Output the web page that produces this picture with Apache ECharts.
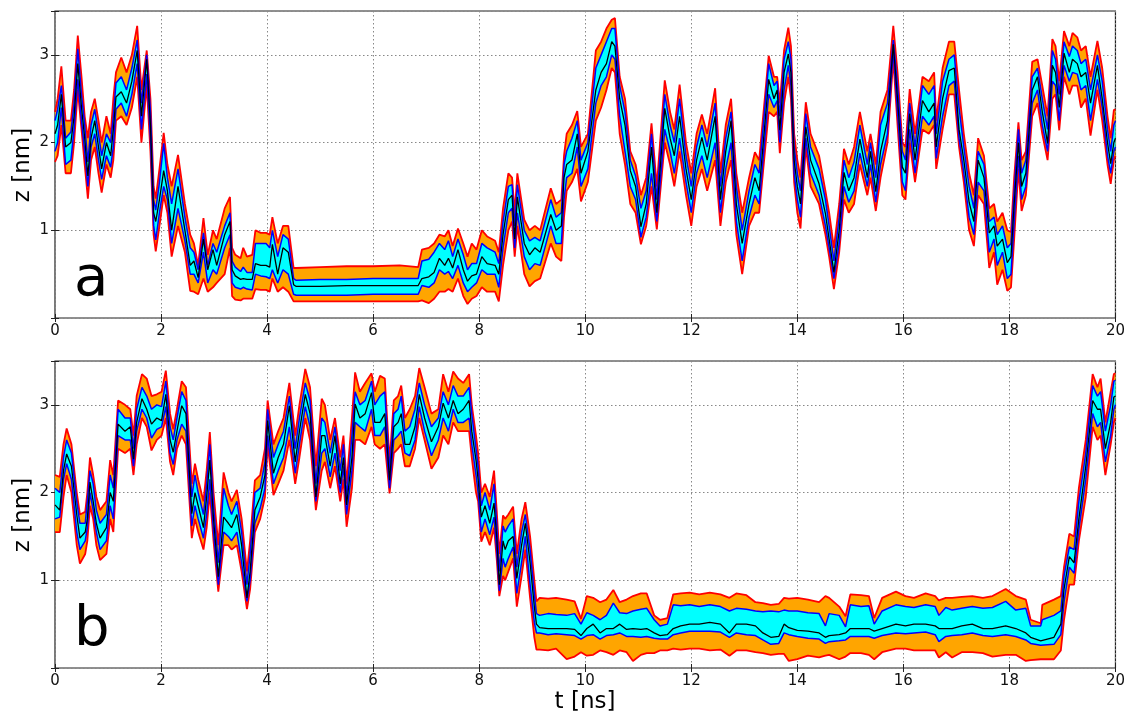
<!DOCTYPE html>
<html><head><meta charset="utf-8">
<script src="https://cdn.jsdelivr.net/npm/echarts@6/dist/echarts.min.js"></script>
<style>html,body{margin:0;padding:0;background:#fff}#c{width:1128px;height:715px}</style>
</head><body><div id="c"></div>
<script>
// ---------- panel a ----------
const tA = [0,0.05,0.12,0.2,0.3,0.36,0.43,0.5,0.56,0.62,
0.68,0.75,0.82,0.88,0.97,1.05,1.1,1.15,1.25,1.35,
1.45,1.55,1.63,1.73,1.8,1.86,1.9,1.97,2.05,2.12,
2.2,2.32,2.45,2.55,2.62,2.7,2.8,2.88,2.98,3.05,
3.2,3.3,3.34,3.4,3.5,3.55,3.62,3.72,3.78,3.88,
3.98,4.05,4.1,4.2,4.3,4.4,4.5,4.55,5,5.5,
6,6.5,6.85,6.92,7.05,7.15,7.25,7.35,7.42,7.5,
7.6,7.7,7.78,7.86,7.95,8.05,8.15,8.3,8.37,8.45,
8.55,8.62,8.67,8.72,8.85,8.95,9.05,9.15,9.35,9.45,
9.55,9.6,9.65,9.75,9.85,9.92,10.05,10.2,10.3,10.4,
10.5,10.56,10.65,10.75,10.85,10.95,11.05,11.15,11.25,11.35,
11.5,11.6,11.68,11.78,11.9,12,12.1,12.2,12.3,12.45,
12.55,12.65,12.75,12.85,12.96,13.09,13.2,13.28,13.46,13.56,
13.62,13.67,13.75,13.83,13.88,13.94,14,14.06,14.16,14.25,
14.41,14.53,14.6,14.69,14.79,14.88,14.97,15.07,15.18,15.32,
15.38,15.48,15.57,15.7,15.81,15.89,15.98,16.04,16.12,16.22,
16.36,16.48,16.58,16.62,16.74,16.86,16.96,17.05,17.14,17.24,
17.33,17.41,17.52,17.62,17.71,17.77,17.87,17.96,18.03,18.09,
18.17,18.23,18.31,18.43,18.53,18.62,18.72,18.81,18.87,18.94,
19.03,19.13,19.19,19.28,19.35,19.44,19.53,19.66,19.75,19.85,
19.91,19.97,20];
const redLoA = [1.78,1.85,2.20,1.65,1.65,2.00,2.60,2.15,1.75,1.36,
1.80,1.95,1.65,1.43,1.75,1.60,1.80,2.25,2.30,2.20,
2.40,2.75,2.00,2.65,1.90,0.95,0.76,1.05,1.40,1.20,
0.70,1.05,0.75,0.31,0.30,0.27,0.45,0.30,0.35,0.40,
0.50,0.80,0.25,0.21,0.20,0.22,0.22,0.22,0.33,0.32,
0.32,0.30,0.45,0.30,0.35,0.30,0.19,0.19,0.19,0.19,
0.19,0.19,0.19,0.20,0.17,0.22,0.30,0.30,0.33,0.30,
0.45,0.25,0.16,0.22,0.25,0.35,0.30,0.30,0.19,0.60,
1.00,1.10,0.70,1.05,0.50,0.36,0.42,0.45,0.85,0.70,
0.65,1.15,1.45,1.55,1.70,1.33,1.55,2.25,2.40,2.60,
2.85,2.80,2.10,1.75,1.30,1.20,0.84,1.05,1.50,1.01,
2.00,1.75,1.50,1.90,1.40,1.05,1.50,1.70,1.45,1.80,
1.05,1.55,1.80,0.95,0.50,1.05,1.20,1.20,2.35,2.30,
2.35,1.88,2.45,2.75,2.50,1.55,1.20,1.02,1.95,1.50,
1.30,0.95,0.70,0.33,0.75,1.35,1.20,1.30,1.75,1.40,
1.60,1.22,1.60,2.00,2.95,2.20,1.40,1.35,2.00,1.55,
2.15,2.10,2.20,1.70,2.15,2.55,2.55,1.95,1.55,1.00,
0.82,1.40,1.30,0.57,0.75,0.38,0.55,0.31,0.35,0.90,
1.70,1.22,1.40,2.30,2.45,2.10,1.80,2.50,2.55,2.14,
2.75,2.55,2.65,2.65,2.40,2.50,2.08,2.60,2.25,1.75,
1.53,1.80,1.85];
const blueLoA = [1.90,2.00,2.40,1.75,1.80,2.15,2.72,2.25,1.90,1.50,
1.95,2.10,1.80,1.58,1.85,1.72,1.95,2.38,2.45,2.30,
2.55,2.90,2.15,2.78,2.05,1.05,0.89,1.20,1.50,1.35,
0.85,1.25,0.88,0.50,0.50,0.40,0.75,0.40,0.55,0.50,
0.80,0.95,0.40,0.35,0.33,0.35,0.33,0.32,0.50,0.48,
0.47,0.45,0.55,0.40,0.55,0.50,0.27,0.26,0.26,0.26,
0.27,0.27,0.27,0.37,0.35,0.40,0.55,0.50,0.53,0.45,
0.60,0.40,0.30,0.35,0.40,0.55,0.50,0.50,0.35,0.80,
1.20,1.25,0.80,1.20,0.70,0.55,0.62,0.60,1.05,0.85,
0.85,1.35,1.60,1.65,1.95,1.50,1.70,2.45,2.65,2.75,
3.00,2.95,2.30,1.90,1.50,1.35,0.92,1.15,1.65,1.10,
2.15,1.90,1.65,2.05,1.55,1.20,1.65,1.85,1.60,2.00,
1.20,1.70,2.00,1.10,0.65,1.15,1.40,1.30,2.55,2.40,
2.48,2.00,2.60,2.88,2.65,1.65,1.35,1.15,2.05,1.65,
1.40,1.05,0.80,0.45,0.85,1.50,1.32,1.45,1.88,1.50,
1.75,1.32,1.75,2.10,3.05,2.35,1.55,1.45,2.15,1.65,
2.30,2.20,2.30,1.82,2.30,2.65,2.70,2.05,1.65,1.15,
0.95,1.55,1.45,0.75,0.90,0.60,0.75,0.45,0.50,1.10,
1.85,1.35,1.50,2.45,2.60,2.20,1.90,2.70,2.65,2.25,
2.88,2.70,2.80,2.78,2.60,2.65,2.25,2.72,2.40,1.85,
1.65,1.90,1.95];
const midA = [2.10,2.20,2.55,1.95,2.00,2.30,2.90,2.40,2.05,1.62,
2.05,2.25,1.95,1.70,2.00,1.85,2.15,2.52,2.58,2.45,
2.70,3.05,2.30,2.95,2.20,1.20,1.10,1.35,1.68,1.45,
1.00,1.50,1.00,0.60,0.65,0.46,0.90,0.55,0.78,0.60,
0.95,1.10,0.55,0.48,0.44,0.45,0.44,0.44,0.62,0.60,
0.60,0.58,0.84,0.50,0.80,0.75,0.38,0.36,0.36,0.37,
0.37,0.37,0.37,0.45,0.47,0.52,0.68,0.60,0.68,0.57,
0.78,0.55,0.42,0.48,0.50,0.70,0.62,0.60,0.50,0.95,
1.35,1.40,0.90,1.38,0.85,0.72,0.80,0.75,1.18,1.00,
1.05,1.60,1.75,1.80,2.10,1.65,1.90,2.60,2.80,2.90,
3.15,3.10,2.50,2.20,1.68,1.50,1.04,1.30,1.95,1.20,
2.39,2.05,1.85,2.30,1.70,1.35,1.80,2.06,1.80,2.30,
1.35,1.90,2.25,1.30,0.85,1.30,1.60,1.45,2.72,2.50,
2.60,2.14,2.80,3.01,2.80,1.80,1.50,1.30,2.18,1.80,
1.53,1.19,0.90,0.52,1.00,1.66,1.45,1.60,2.04,1.60,
1.90,1.44,1.90,2.25,3.12,2.50,1.72,1.65,2.33,1.80,
2.48,2.35,2.45,1.95,2.50,2.82,2.85,2.15,1.80,1.32,
1.10,1.80,1.60,0.97,1.05,0.82,0.90,0.63,0.70,1.30,
2.00,1.50,1.65,2.60,2.75,2.35,1.99,2.88,2.80,2.40,
3.02,2.80,2.95,2.90,2.75,2.80,2.45,2.88,2.50,2.00,
1.76,2.00,2.05];
const blueHiA = [2.25,2.38,2.65,2.05,2.12,2.45,3.07,2.55,2.20,1.78,
2.20,2.38,2.10,1.85,2.10,2.00,2.30,2.68,2.75,2.60,
2.85,3.17,2.45,3.00,2.35,1.35,1.23,1.55,1.99,1.60,
1.30,1.70,1.15,0.80,0.75,0.55,0.97,0.60,0.85,0.75,
1.05,1.20,0.65,0.58,0.53,0.58,0.52,0.52,0.85,0.85,
0.85,0.80,1.00,0.70,0.95,0.90,0.45,0.43,0.44,0.44,
0.45,0.45,0.45,0.65,0.67,0.75,0.85,0.78,0.88,0.70,
0.90,0.72,0.55,0.62,0.62,0.85,0.80,0.75,0.62,1.10,
1.50,1.52,1.05,1.52,1.00,0.88,0.92,0.88,1.35,1.15,
1.20,1.75,1.90,2.05,2.25,1.80,2.00,2.85,3.00,3.15,
3.30,3.30,2.65,2.35,1.80,1.62,1.25,1.45,2.10,1.35,
2.55,2.20,2.00,2.50,1.85,1.50,1.95,2.20,1.95,2.45,
1.50,2.05,2.35,1.50,1.00,1.45,1.75,1.65,2.90,2.65,
2.70,2.30,2.95,3.15,2.95,1.95,1.65,1.45,2.33,1.95,
1.70,1.35,1.05,0.65,1.15,1.80,1.60,1.78,2.20,1.75,
2.00,1.60,2.20,2.45,3.17,2.65,1.90,1.80,2.45,1.95,
2.65,2.55,2.65,2.10,2.70,2.95,3.00,2.40,1.95,1.50,
1.25,1.90,1.75,1.10,1.15,0.95,1.05,0.80,0.85,1.45,
2.15,1.65,1.80,2.75,2.85,2.50,2.15,3.05,2.95,2.55,
3.15,2.98,3.10,3.05,2.90,2.95,2.60,3.00,2.70,2.15,
1.90,2.20,2.25];
const redHiA = [2.35,2.50,2.87,2.25,2.25,2.60,3.22,2.75,2.30,2.05,
2.35,2.50,2.25,2.00,2.30,2.10,2.50,2.80,2.97,2.80,
3.00,3.33,2.60,3.05,2.50,1.50,1.36,1.70,2.11,1.75,
1.50,1.86,1.30,0.95,0.85,0.60,1.14,0.72,1.00,0.90,
1.25,1.38,0.80,0.72,0.68,0.80,0.70,0.72,1.00,0.97,
0.97,0.95,1.15,0.85,1.05,1.05,0.57,0.57,0.58,0.59,
0.59,0.60,0.58,0.78,0.80,0.85,0.95,0.93,1.00,0.82,
1.02,0.85,0.70,0.85,0.78,1.00,0.93,0.88,0.75,1.25,
1.65,1.60,1.20,1.65,1.12,1.00,1.05,1.00,1.48,1.30,
1.35,1.85,2.10,2.20,2.36,1.95,2.10,3.05,3.15,3.30,
3.40,3.42,2.75,2.50,1.90,1.75,1.40,1.60,2.22,1.50,
2.71,2.35,2.15,2.66,2.00,1.65,2.10,2.32,2.10,2.62,
1.65,2.20,2.50,1.65,1.20,1.60,1.89,1.80,2.99,2.75,
2.75,2.45,3.05,3.31,3.10,2.10,1.80,1.60,2.46,2.10,
1.85,1.45,1.20,0.80,1.30,1.93,1.75,1.95,2.35,1.90,
2.10,1.75,2.35,2.60,3.33,2.80,2.00,1.95,2.61,2.10,
2.75,2.70,2.80,2.25,2.85,3.15,3.15,2.60,2.10,1.65,
1.40,2.05,1.85,1.25,1.30,1.10,1.20,1.00,0.98,1.60,
2.23,1.80,1.90,2.92,2.95,2.65,2.30,3.18,3.10,2.70,
3.27,3.10,3.25,3.20,3.05,3.10,2.75,3.16,2.85,2.30,
2.05,2.37,2.38];

// ---------- panel b ----------
const tB = [0,0.09,0.16,0.22,0.31,0.41,0.47,0.57,0.61,0.66,
0.72,0.78,0.85,0.97,1.04,1.1,1.19,1.32,1.42,1.48,
1.54,1.64,1.73,1.82,1.92,2.01,2.09,2.17,2.23,2.3,
2.39,2.47,2.58,2.64,2.7,2.8,2.86,2.92,2.99,3.08,
3.18,3.27,3.33,3.43,3.52,3.62,3.68,3.77,3.87,3.96,
4.01,4.12,4.21,4.31,4.42,4.53,4.61,4.72,4.81,4.92,
5.03,5.09,5.19,5.28,5.38,5.44,5.5,5.6,5.66,5.75,
5.85,5.97,6.03,6.13,6.22,6.31,6.39,6.47,6.53,6.6,
6.69,6.79,6.87,6.97,7.1,7.23,7.32,7.42,7.51,7.6,
7.7,7.81,7.86,7.94,7.98,8.04,8.11,8.2,8.28,8.33,
8.38,8.45,8.49,8.55,8.64,8.71,8.8,8.87,8.96,9.04,
9.08,9.14,9.3,9.45,9.65,9.8,9.92,10.03,10.15,10.28,
10.4,10.53,10.65,10.78,10.9,11.05,11.16,11.3,11.41,11.55,
11.66,11.8,11.97,12.15,12.35,12.55,12.72,12.85,13.04,13.21,
13.35,13.5,13.65,13.75,13.84,14,14.2,14.41,14.53,14.6,
14.79,14.91,15,15.2,15.35,15.45,15.6,15.86,16.04,16.2,
16.42,16.6,16.67,16.8,16.92,17.1,17.3,17.5,17.68,17.93,
18.12,18.31,18.4,18.59,18.62,18.84,18.97,19.03,19.13,19.22,
19.31,19.44,19.57,19.66,19.72,19.81,19.91,19.97,20];
const redLoB = [1.55,1.55,1.95,2.20,2.00,1.40,1.19,1.30,1.45,1.85,
1.70,1.40,1.23,1.30,1.70,1.55,2.50,2.45,2.50,2.20,
2.55,2.85,2.75,2.48,2.60,2.65,2.85,2.35,2.20,2.50,
2.65,2.55,1.48,1.70,1.55,1.35,1.60,2.00,1.45,0.87,
1.40,1.40,1.35,1.40,1.10,0.67,0.90,1.55,1.70,1.95,
2.55,1.97,2.10,2.25,2.60,2.10,2.40,2.85,2.60,1.80,
2.25,2.35,2.05,2.30,1.90,2.15,1.61,2.05,2.60,2.60,
2.55,2.75,2.55,2.50,2.55,1.99,2.45,2.50,2.55,2.30,
2.30,2.50,2.85,2.60,2.27,2.40,2.65,2.55,2.80,2.70,
2.70,2.70,2.40,2.00,1.90,1.44,1.55,1.40,1.60,1.25,
0.82,1.05,1.00,1.10,1.25,0.70,1.05,1.35,0.80,0.35,
0.21,0.21,0.20,0.22,0.10,0.13,0.18,0.14,0.15,0.20,
0.18,0.15,0.20,0.18,0.08,0.15,0.17,0.17,0.20,0.20,
0.22,0.21,0.22,0.22,0.20,0.21,0.14,0.20,0.20,0.18,
0.17,0.15,0.16,0.16,0.08,0.10,0.14,0.12,0.14,0.15,
0.10,0.13,0.17,0.17,0.15,0.10,0.18,0.22,0.22,0.20,
0.20,0.20,0.12,0.18,0.12,0.18,0.18,0.17,0.13,0.15,
0.15,0.08,0.09,0.10,0.10,0.10,0.20,0.55,0.95,0.95,
1.45,1.95,2.75,2.60,2.65,2.20,2.55,2.80,2.85];
const blueLoB = [1.70,1.72,2.15,2.33,2.15,1.55,1.35,1.45,1.60,2.00,
1.80,1.55,1.35,1.45,1.85,1.70,2.65,2.60,2.60,2.30,
2.70,2.95,2.85,2.62,2.72,2.75,2.98,2.45,2.32,2.60,
2.78,2.70,1.62,1.85,1.70,1.48,1.75,2.15,1.55,0.95,
1.55,1.50,1.45,1.55,1.20,0.76,1.00,1.65,1.82,2.05,
2.65,2.10,2.25,2.40,2.75,2.22,2.55,2.98,2.75,1.90,
2.45,2.50,2.18,2.45,2.00,2.30,1.75,2.25,2.80,2.75,
2.70,2.95,2.65,2.65,2.75,2.05,2.60,2.65,2.70,2.45,
2.42,2.60,2.98,2.70,2.42,2.60,2.85,2.70,2.95,2.80,
2.80,2.85,2.55,2.20,2.00,1.55,1.70,1.52,1.72,1.35,
0.88,1.25,1.15,1.25,1.38,0.85,1.20,1.50,0.95,0.52,
0.40,0.40,0.38,0.39,0.38,0.37,0.33,0.37,0.38,0.33,
0.37,0.38,0.40,0.36,0.36,0.35,0.36,0.34,0.33,0.33,
0.38,0.40,0.42,0.42,0.42,0.41,0.35,0.40,0.38,0.37,
0.32,0.27,0.28,0.40,0.38,0.36,0.34,0.33,0.28,0.30,
0.31,0.32,0.36,0.36,0.36,0.34,0.37,0.40,0.39,0.40,
0.41,0.38,0.30,0.36,0.37,0.38,0.40,0.37,0.36,0.38,
0.36,0.32,0.28,0.26,0.26,0.27,0.38,0.75,1.15,1.08,
1.58,2.15,2.90,2.75,2.80,2.35,2.65,2.95,3.00];
const midB = [1.86,1.80,2.25,2.44,2.30,1.75,1.48,1.55,1.70,2.12,
1.90,1.65,1.48,1.60,2.00,1.90,2.78,2.70,2.75,2.38,
2.80,3.07,2.95,2.78,2.85,2.82,3.12,2.60,2.46,2.70,
2.99,2.90,1.76,2.00,1.85,1.60,1.95,2.37,1.70,1.04,
1.72,1.65,1.60,1.75,1.40,0.80,1.10,1.80,1.95,2.20,
2.82,2.22,2.40,2.55,2.99,2.35,2.70,3.12,2.90,1.95,
2.65,2.65,2.30,2.65,2.10,2.40,1.86,2.40,3.01,2.85,
2.90,3.14,2.80,2.80,2.90,2.14,2.75,2.80,2.90,2.55,
2.55,2.75,3.12,2.85,2.58,2.75,3.02,2.85,3.05,2.90,
2.95,3.05,2.70,2.37,2.15,1.72,1.85,1.65,1.88,1.50,
0.95,1.45,1.35,1.45,1.50,1.02,1.40,1.65,1.20,0.70,
0.50,0.46,0.45,0.45,0.45,0.44,0.37,0.45,0.50,0.40,
0.45,0.45,0.50,0.44,0.45,0.44,0.45,0.40,0.37,0.38,
0.45,0.48,0.50,0.50,0.52,0.50,0.40,0.50,0.50,0.48,
0.40,0.35,0.36,0.50,0.46,0.43,0.42,0.40,0.35,0.37,
0.38,0.40,0.45,0.45,0.45,0.42,0.45,0.50,0.48,0.50,
0.50,0.48,0.45,0.45,0.45,0.48,0.50,0.45,0.45,0.48,
0.45,0.40,0.35,0.31,0.31,0.35,0.50,0.90,1.27,1.20,
1.70,2.30,3.05,2.95,2.95,2.50,2.80,3.09,3.10];
const blueHiB = [2.05,2.00,2.40,2.60,2.45,1.90,1.65,1.65,1.90,2.25,
2.10,1.80,1.65,1.75,2.20,2.05,2.95,2.85,2.85,2.50,
2.95,3.20,3.10,2.95,3.00,2.98,3.27,2.75,2.60,2.85,
3.15,3.05,1.95,2.20,2.00,1.75,2.10,2.55,1.85,1.20,
2.05,1.85,1.75,1.90,1.55,0.95,1.30,2.00,2.05,2.35,
2.95,2.40,2.55,2.70,3.10,2.50,2.85,3.25,3.05,2.10,
2.85,2.80,2.45,2.75,2.25,2.55,1.95,2.65,3.15,3.00,
3.05,3.27,3.00,3.10,3.15,2.25,2.90,2.95,3.10,2.70,
2.75,2.95,3.25,3.00,2.75,2.85,3.15,3.00,3.22,3.10,
3.10,3.20,2.90,2.50,2.30,1.85,2.00,1.80,2.10,1.65,
1.10,1.62,1.55,1.62,1.70,1.15,1.55,1.75,1.35,0.85,
0.62,0.60,0.62,0.61,0.60,0.62,0.50,0.63,0.60,0.55,
0.60,0.74,0.63,0.62,0.65,0.67,0.68,0.55,0.48,0.50,
0.72,0.71,0.72,0.70,0.72,0.70,0.65,0.68,0.67,0.65,
0.64,0.65,0.64,0.66,0.65,0.65,0.63,0.62,0.48,0.62,
0.60,0.47,0.72,0.70,0.71,0.50,0.65,0.72,0.70,0.69,
0.72,0.70,0.60,0.69,0.66,0.68,0.70,0.68,0.69,0.76,
0.66,0.68,0.48,0.48,0.55,0.60,0.65,1.05,1.38,1.35,
1.90,2.45,3.22,3.10,3.15,2.70,3.00,3.27,3.28];
const redHiB = [2.20,2.18,2.55,2.73,2.55,2.00,1.75,1.78,2.00,2.40,
2.20,1.95,1.80,1.90,2.37,2.20,3.05,3.00,2.95,2.65,
3.10,3.35,3.30,3.10,3.12,3.15,3.39,2.90,2.72,2.95,
3.27,3.20,2.10,2.33,2.15,1.90,2.25,2.69,2.00,1.40,
2.23,2.00,1.90,2.03,1.70,1.10,1.45,2.14,2.20,2.50,
3.05,2.55,2.70,2.85,3.25,2.65,3.00,3.41,3.20,2.30,
3.07,3.00,2.60,2.85,2.40,2.65,2.10,2.85,3.37,3.15,
3.25,3.36,3.15,3.33,3.30,2.35,3.05,3.10,3.22,2.85,
2.95,3.10,3.42,3.20,2.90,2.95,3.35,3.15,3.38,3.30,
3.25,3.35,3.00,2.65,2.45,2.00,2.10,1.95,2.25,1.80,
1.30,1.74,1.70,1.75,1.84,1.30,1.70,1.89,1.50,1.00,
0.76,0.80,0.79,0.80,0.78,0.76,0.56,0.82,0.80,0.75,
0.78,0.89,0.75,0.78,0.82,0.85,0.85,0.60,0.55,0.57,
0.84,0.85,0.86,0.84,0.86,0.84,0.80,0.85,0.83,0.75,
0.74,0.72,0.73,0.80,0.79,0.80,0.78,0.75,0.82,0.80,
0.70,0.59,0.84,0.83,0.82,0.57,0.80,0.87,0.82,0.80,
0.85,0.82,0.77,0.80,0.80,0.81,0.82,0.80,0.82,0.90,
0.82,0.78,0.55,0.51,0.72,0.78,0.82,1.15,1.53,1.50,
2.05,2.60,3.35,3.20,3.30,2.80,3.15,3.35,3.36];

const panelLetters = ['a', 'b'];
const xLabel = 't [ns]';
const yLabel = 'z [nm]';

const FONT = '"DejaVu Sans", sans-serif';
const chart = echarts.init(document.getElementById('c'), null, {renderer: 'canvas'});

function band(idx, T, lo, hi, color, z) {
  return {
    type: 'custom', xAxisIndex: idx, yAxisIndex: idx, z: z, silent: true, clip: true,
    data: T.map((t, i) => [t, lo[i], hi[i]]),
    encode: {x: 0, y: [1, 2]},
    renderItem: function (params, api) {
      if (params.dataIndexInside !== 0) return null;
      const top = [], bot = [];
      for (let i = 0; i < T.length; i++) {
        top.push(api.coord([T[i], hi[i]]));
        bot.push(api.coord([T[i], lo[i]]));
      }
      return {type: 'polygon', shape: {points: top.concat(bot.reverse())}, style: {fill: color, stroke: null}};
    }
  };
}
function line(idx, T, V, color, w, z) {
  return {
    type: 'line', xAxisIndex: idx, yAxisIndex: idx, z: z, silent: true,
    data: T.map((t, i) => [t, V[i]]), showSymbol: false, symbol: 'none',
    lineStyle: {color: color, width: w}
  };
}

const panels = [
  {T: tA, rl: redLoA, bl: blueLoA, m: midA, bh: blueHiA, rh: redHiA},
  {T: tB, rl: redLoB, bl: blueLoB, m: midB, bh: blueHiB, rh: redHiB}
];
const series = [];
panels.forEach((p, i) => {
  series.push(band(i, p.T, p.rl, p.rh, '#FFA500', 1));
  series.push(band(i, p.T, p.bl, p.bh, '#00FFFF', 2));
  series.push(line(i, p.T, p.rl, '#FF0000', 1.8, 3));
  series.push(line(i, p.T, p.rh, '#FF0000', 1.8, 3));
  series.push(line(i, p.T, p.bl, '#0000FF', 1.5, 4));
  series.push(line(i, p.T, p.bh, '#0000FF', 1.5, 4));
  series.push(line(i, p.T, p.m, '#000000', 1.3, 5));
});

const grids = [
  {left: 55, top: 11, width: 1062, height: 307, show: true, borderColor: '#222', borderWidth: 1.2, backgroundColor: 'transparent'},
  {left: 55, top: 361, width: 1062, height: 307, show: true, borderColor: '#222', borderWidth: 1.2, backgroundColor: 'transparent'}
];
const splitStyle = {show: true, lineStyle: {color: '#888', width: 1, type: [1.5, 2.5]}};
function xAx(g, pos, labels) {
  return {
    type: 'value', gridIndex: g, position: pos, min: 0, max: 20, interval: 2,
    axisLine: {show: false},
    axisTick: {show: true, inside: true, length: 4, lineStyle: {color: '#222'}},
    axisLabel: {show: labels, color: '#111', fontSize: 15, fontFamily: FONT, margin: 6},
    splitLine: labels ? splitStyle : {show: false}
  };
}
function yAx(g, pos, labels) {
  return {
    type: 'value', gridIndex: g, position: pos, min: 0, max: 3.5, interval: 1,
    axisLine: {show: false},
    axisTick: {show: true, inside: true, length: 4, lineStyle: {color: '#222'}},
    axisLabel: {show: labels, color: '#111', fontSize: 15, fontFamily: FONT, margin: 6,
      formatter: v => (v === 0 || v % 1 !== 0) ? '' : String(v)},
    splitLine: labels ? splitStyle : {show: false}
  };
}

chart.setOption({
  animation: false,
  backgroundColor: '#fff',
  grid: grids,
  xAxis: [xAx(0, 'bottom', true), xAx(1, 'bottom', true), xAx(0, 'top', false), xAx(1, 'top', false)],
  yAxis: [yAx(0, 'left', true), yAx(1, 'left', true), yAx(0, 'right', false), yAx(1, 'right', false)],
  series: series,
  graphic: [
    {type: 'text', left: 74, top: 252, z: 100, style: {text: panelLetters[0], font: '56px ' + FONT, fill: '#000'}},
    {type: 'text', left: 74, top: 602, z: 100, style: {text: panelLetters[1], font: '56px ' + FONT, fill: '#000'}},
    {type: 'text', x: 23, y: 165, rotation: Math.PI / 2, z: 100,
      style: {text: yLabel, font: '23px ' + FONT, fill: '#000', align: 'center', verticalAlign: 'middle'}},
    {type: 'text', x: 23, y: 515, rotation: Math.PI / 2, z: 100,
      style: {text: yLabel, font: '23px ' + FONT, fill: '#000', align: 'center', verticalAlign: 'middle'}},
    {type: 'text', x: 585, y: 702, z: 100,
      style: {text: xLabel, font: '23px ' + FONT, fill: '#000', align: 'center', verticalAlign: 'middle'}}
  ]
});
</script>
</body></html>
